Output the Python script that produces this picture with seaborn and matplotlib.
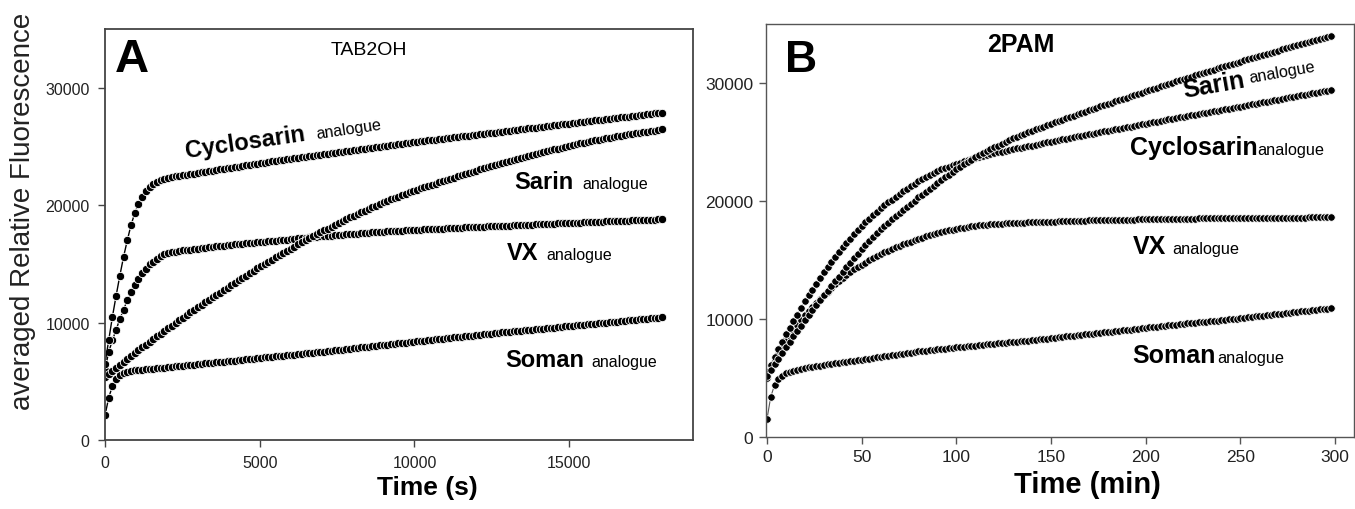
import numpy as np
import matplotlib
matplotlib.use("Agg")
import matplotlib.pyplot as plt
import matplotlib.font_manager as fm
import seaborn as sns

# sampling grids of the plate reader
time_s = np.arange(0, 18001, 120)      # panel A, seconds
time_min = np.arange(0, 299, 2)        # panel B, minutes

# panel A - TAB2OH
cyclosarin_a = [
    6500, 8500, 10500, 12300, 14000, 15600, 17000, 18300, 19300, 20100,
    20700, 21200, 21550, 21800, 22000, 22150, 22250, 22330, 22390, 22440,
    22490, 22540, 22590, 22640, 22690, 22740, 22790, 22840, 22890, 22940,
    22990, 23040, 23090, 23140, 23190, 23240, 23290, 23340, 23390, 23440,
    23490, 23540, 23590, 23630, 23680, 23720, 23760, 23810, 23850, 23890,
    23940, 23980, 24020, 24070, 24110, 24150, 24200, 24240, 24280, 24330,
    24370, 24410, 24460, 24500, 24540, 24590, 24630, 24670, 24720, 24760,
    24800, 24850, 24890, 24930, 24980, 25020, 25060, 25110, 25150, 25190,
    25240, 25280, 25320, 25370, 25410, 25440, 25480, 25520, 25560, 25590,
    25630, 25670, 25710, 25740, 25780, 25820, 25860, 25890, 25930, 25970,
    26010, 26040, 26080, 26120, 26160, 26150, 26230, 26270, 26310, 26340,
    26380, 26420, 26460, 26490, 26530, 26570, 26610, 26640, 26680, 26720,
    26760, 26790, 26830, 26870, 26910, 26940, 26980, 27020, 27060, 27090,
    27130, 27170, 27210, 27240, 27280, 27320, 27360, 27390, 27430, 27470,
    27510, 27540, 27580, 27620, 27660, 27690, 27730, 27770, 27810, 27840,
    27880]
sarin_a = [
    5400, 5650, 5900, 6160, 6410, 6660, 6910, 7160, 7420, 7660,
    7890, 8120, 8360, 8590, 8820, 9060, 9290, 9520, 9750, 9970,
    10190, 10410, 10630, 10860, 11080, 11300, 11510, 11720, 11930, 12140,
    12350, 12560, 12770, 12980, 13190, 13390, 13590, 13800, 14000, 14210,
    14410, 14610, 14810, 15000, 15180, 15370, 15560, 15740, 15930, 16110,
    16300, 16470, 16650, 16820, 16990, 17170, 17340, 17520, 17690, 17850,
    18010, 18170, 18320, 18480, 18630, 18790, 18950, 19100, 19240, 19390,
    19530, 19670, 19820, 19960, 20110, 20250, 20370, 20490, 20610, 20730,
    20850, 20970, 21090, 21210, 21320, 21420, 21520, 21620, 21730, 21830,
    21930, 22030, 22130, 22240, 22340, 22440, 22540, 22640, 22750, 22850,
    22950, 23040, 23130, 23220, 23310, 23400, 23490, 23580, 23670, 23760,
    23840, 23920, 24010, 24090, 24180, 24260, 24340, 24430, 24500, 24580,
    24660, 24740, 24820, 24890, 24970, 25050, 25120, 25180, 25250, 25310,
    25380, 25450, 25510, 25580, 25640, 25690, 25740, 25800, 25850, 25910,
    25960, 26020, 26070, 26110, 26160, 26210, 26260, 26310, 26350, 26400,
    26450]
vx_a = [
    6000, 7500, 8500, 9400, 10300, 11100, 11900, 12600, 13200, 13700,
    14200, 14600, 14950, 15200, 15450, 15650, 15800, 15900, 15980, 16040,
    16100, 16140, 16180, 16220, 16260, 16300, 16340, 16370, 16410, 16440,
    16480, 16520, 16550, 16590, 16620, 16650, 16680, 16710, 16740, 16770,
    16800, 16830, 16860, 16890, 16920, 16950, 16980, 17010, 17040, 17070,
    17100, 17130, 17160, 17190, 17220, 17250, 17280, 17310, 17340, 17360,
    17390, 17410, 17430, 17460, 17480, 17510, 17530, 17560, 17580, 17610,
    17630, 17650, 17680, 17700, 17730, 17750, 17770, 17790, 17800, 17820,
    17840, 17860, 17880, 17890, 17910, 17920, 17940, 17950, 17970, 17980,
    18000, 18010, 18030, 18040, 18060, 18070, 18090, 18100, 18120, 18130,
    18150, 18160, 18170, 18190, 18200, 18210, 18230, 18240, 18250, 18260,
    18280, 18290, 18300, 18320, 18330, 18340, 18360, 18370, 18380, 18400,
    18410, 18420, 18440, 18450, 18460, 18480, 18490, 18500, 18520, 18530,
    18540, 18560, 18570, 18580, 18600, 18610, 18620, 18640, 18650, 18660,
    18680, 18690, 18700, 18710, 18730, 18740, 18750, 18760, 18770, 18790,
    18800]
soman_a = [
    2100, 3600, 4600, 5200, 5500, 5700, 5800, 5870, 5920, 5960,
    5990, 6020, 6050, 6080, 6110, 6140, 6170, 6200, 6230, 6260,
    6290, 6320, 6360, 6390, 6420, 6450, 6480, 6520, 6550, 6580,
    6610, 6640, 6680, 6710, 6740, 6770, 6800, 6840, 6870, 6900,
    6930, 6960, 7010, 7040, 7070, 7100, 7130, 7160, 7190, 7220,
    7250, 7280, 7310, 7340, 7370, 7400, 7430, 7460, 7490, 7520,
    7560, 7600, 7630, 7670, 7700, 7740, 7780, 7810, 7850, 7880,
    7920, 7960, 7990, 8030, 8060, 8100, 8130, 8170, 8200, 8230,
    8270, 8300, 8330, 8360, 8400, 8430, 8460, 8500, 8530, 8560,
    8600, 8630, 8660, 8700, 8730, 8760, 8800, 8830, 8860, 8890,
    8930, 8960, 8990, 9030, 9060, 9090, 9130, 9160, 9190, 9220,
    9250, 9280, 9310, 9340, 9370, 9400, 9430, 9460, 9490, 9520,
    9550, 9580, 9610, 9640, 9670, 9700, 9730, 9760, 9790, 9820,
    9850, 9880, 9910, 9940, 9970, 10000, 10030, 10060, 10090, 10120,
    10150, 10180, 10210, 10240, 10270, 10300, 10330, 10360, 10390, 10420,
    10450]

# panel B - 2PAM
cyclosarin_b = [
    5500, 6140, 6780, 7420, 8060, 8700, 9260, 9820, 10380, 10940,
    11500, 12000, 12500, 13000, 13500, 14000, 14420, 14840, 15260, 15680,
    16100, 16460, 16820, 17180, 17540, 17900, 18200, 18500, 18800, 19100,
    19400, 19640, 19880, 20120, 20360, 20600, 20820, 21040, 21260, 21480,
    21700, 21870, 22040, 22210, 22380, 22550, 22670, 22790, 22910, 23030,
    23150, 23250, 23350, 23450, 23550, 23650, 23730, 23810, 23890, 23970,
    24050, 24120, 24190, 24260, 24330, 24400, 24460, 24520, 24580, 24640,
    24700, 24770, 24830, 24900, 24960, 25030, 25090, 25160, 25220, 25290,
    25350, 25410, 25470, 25530, 25590, 25650, 25710, 25770, 25830, 25890,
    25950, 26010, 26070, 26130, 26190, 26250, 26310, 26370, 26430, 26490,
    26550, 26610, 26670, 26730, 26790, 26850, 26910, 26970, 27030, 27090,
    27150, 27210, 27260, 27320, 27370, 27430, 27480, 27540, 27590, 27650,
    27700, 27760, 27820, 27880, 27940, 28000, 28060, 28120, 28180, 28240,
    28300, 28360, 28420, 28480, 28540, 28600, 28660, 28720, 28780, 28840,
    28900, 28960, 29010, 29070, 29120, 29180, 29230, 29290, 29340, 29400]
sarin_b = [
    5200, 5680, 6160, 6640, 7120, 7600, 8060, 8520, 8980, 9440,
    9900, 10320, 10740, 11160, 11580, 12000, 12400, 12800, 13200, 13600,
    14000, 14380, 14760, 15140, 15520, 15900, 16240, 16580, 16920, 17260,
    17600, 17880, 18160, 18440, 18720, 19000, 19260, 19520, 19780, 20040,
    20300, 20550, 20800, 21050, 21300, 21550, 21780, 22010, 22240, 22470,
    22700, 22900, 23100, 23300, 23500, 23700, 23870, 24040, 24210, 24380,
    24550, 24700, 24850, 25000, 25150, 25300, 25430, 25560, 25690, 25820,
    25950, 26070, 26190, 26310, 26430, 26550, 26660, 26780, 26890, 27010,
    27120, 27230, 27340, 27450, 27560, 27680, 27790, 27900, 28010, 28120,
    28230, 28340, 28440, 28550, 28660, 28770, 28870, 28980, 29090, 29190,
    29300, 29400, 29510, 29610, 29720, 29820, 29920, 30030, 30130, 30240,
    30340, 30440, 30540, 30640, 30740, 30840, 30940, 31040, 31140, 31240,
    31340, 31440, 31530, 31630, 31720, 31820, 31920, 32010, 32110, 32200,
    32300, 32390, 32480, 32570, 32660, 32750, 32840, 32930, 33020, 33110,
    33200, 33290, 33370, 33460, 33540, 33630, 33710, 33800, 33880, 33970]
vx_b = [
    5000, 5800, 6450, 7060, 7600, 8100, 8580, 9060, 9500, 9900,
    10300, 10660, 11020, 11380, 11700, 12000, 12320, 12640, 12950, 13230,
    13500, 13740, 13980, 14220, 14420, 14600, 14780, 14960, 15140, 15320,
    15500, 15640, 15780, 15920, 16060, 16200, 16320, 16440, 16560, 16680,
    16800, 16900, 17000, 17100, 17200, 17300, 17370, 17440, 17510, 17580,
    17650, 17700, 17750, 17800, 17850, 17900, 17930, 17960, 17990, 18020,
    18050, 18070, 18080, 18100, 18110, 18130, 18140, 18160, 18170, 18190,
    18200, 18210, 18220, 18230, 18240, 18250, 18260, 18270, 18280, 18290,
    18300, 18310, 18320, 18330, 18340, 18350, 18360, 18370, 18380, 18390,
    18400, 18400, 18410, 18410, 18420, 18420, 18430, 18430, 18440, 18440,
    18450, 18450, 18460, 18460, 18470, 18470, 18480, 18480, 18490, 18490,
    18500, 18500, 18510, 18510, 18520, 18520, 18530, 18530, 18540, 18540,
    18550, 18550, 18550, 18560, 18560, 18560, 18560, 18570, 18570, 18570,
    18570, 18580, 18580, 18580, 18580, 18590, 18590, 18590, 18590, 18600,
    18600, 18600, 18600, 18610, 18610, 18610, 18620, 18620, 18620, 18630]
soman_b = [
    1500, 3400, 4400, 4900, 5200, 5400, 5500, 5600, 5690, 5770,
    5850, 5900, 5950, 6000, 6050, 6100, 6150, 6200, 6250, 6300,
    6350, 6390, 6430, 6470, 6510, 6550, 6600, 6650, 6700, 6750,
    6800, 6840, 6890, 6930, 6980, 7020, 7070, 7110, 7160, 7200,
    7250, 7280, 7320, 7350, 7390, 7420, 7460, 7490, 7530, 7560,
    7600, 7630, 7660, 7690, 7720, 7750, 7780, 7810, 7840, 7870,
    7900, 7930, 7960, 7990, 8020, 8050, 8080, 8110, 8140, 8170,
    8200, 8240, 8270, 8310, 8340, 8380, 8410, 8450, 8480, 8520,
    8550, 8590, 8620, 8660, 8690, 8730, 8760, 8800, 8830, 8870,
    8900, 8940, 8970, 9010, 9040, 9080, 9110, 9150, 9180, 9220,
    9250, 9290, 9320, 9360, 9390, 9430, 9460, 9500, 9530, 9570,
    9600, 9630, 9660, 9690, 9720, 9750, 9780, 9810, 9840, 9870,
    9900, 9940, 9970, 10010, 10040, 10080, 10110, 10150, 10180, 10220,
    10250, 10290, 10320, 10360, 10390, 10430, 10460, 10500, 10530, 10570,
    10600, 10640, 10670, 10710, 10740, 10780, 10810, 10850, 10880, 10920]

sns.set_theme(style="white")
plt.rcParams["font.family"] = ["Liberation Sans", "DejaVu Sans"]

# panel B of the original uses a condensed face
installed = {f.name for f in fm.fontManager.ttflist}
if "Liberation Sans Narrow" in installed:
    narrow, k = "Liberation Sans Narrow", 1.22
else:
    narrow, k = "Liberation Sans", 1.0


def draw_series(ax, x, y, ms, line_color, lw):
    sns.lineplot(x=x, y=y, ax=ax, color=line_color, lw=lw, marker="o",
                 markersize=ms, markerfacecolor="black", markeredgecolor="white",
                 markeredgewidth=0.6, estimator=None, sort=False)


def style_axes(ax, spine_color, lw, fontsize, family, pad):
    for sp in ax.spines.values():
        sp.set_visible(True)
        sp.set_color(spine_color)
        sp.set_linewidth(lw)
    ax.tick_params(bottom=True, left=True, direction="out", length=5, width=1,
                   color=spine_color, labelcolor="#222222", labelsize=fontsize, pad=pad)
    for lab in ax.get_xticklabels() + ax.get_yticklabels():
        lab.set_family(family)


fig = plt.figure(figsize=(13.55, 5.1), dpi=100)
ax_a = fig.add_axes([105 / 1355, 69 / 510, 588 / 1355, 411 / 510])
ax_b = fig.add_axes([766 / 1355, 72 / 510, 588 / 1355, 413 / 510])

# ---- panel A
for series in [soman_a, vx_a, sarin_a, cyclosarin_a]:
    draw_series(ax_a, time_s, series, 6.0, "black", 1.0)
ax_a.set_xlim(0, 19000)
ax_a.set_ylim(0, 35000)
ax_a.set_xticks([0, 5000, 10000, 15000])
ax_a.set_yticks([0, 10000, 20000, 30000])
style_axes(ax_a, "#444444", 1.3, 11.5, "Liberation Sans", 6)
ax_a.set_xlabel("Time (s)", fontsize=19, fontweight="bold", color="black", va="top")
ax_a.xaxis.set_label_coords(0.548, -0.085)
ax_a.set_ylabel("")

ax_a.text(0.017, 0.898, "A", transform=ax_a.transAxes, fontsize=34,
          fontweight="bold", ha="left", va="baseline", color="black")
ax_a.text(0.449, 0.939, "TAB2OH", transform=ax_a.transAxes, fontsize=14,
          ha="center", va="baseline", color="black")

labels_a = [
    ("Cyclosarin", 2620, 24130, "analogue", 6850, 25750, 8.3),
    ("Sarin", 13230, 21500, "analogue", 15420, 21500, 0),
    ("VX", 13000, 15380, "analogue", 14260, 15380, 0),
    ("Soman", 12940, 6290, "analogue", 15710, 6290, 0),
]
for name, x1, y1, suffix, x2, y2, rot in labels_a:
    ax_a.text(x1, y1, name, fontsize=17, fontweight="bold", rotation=rot,
              rotation_mode="anchor", ha="left", va="baseline", color="black")
    ax_a.text(x2, y2, suffix, fontsize=11.5, rotation=rot,
              rotation_mode="anchor", ha="left", va="baseline", color="black")

# ---- panel B
for series in [soman_b, vx_b, cyclosarin_b, sarin_b]:
    draw_series(ax_b, time_min, series, 5.4, "#555555", 0.8)
ax_b.set_xlim(-0.5, 310)
ax_b.set_ylim(0, 35000)
ax_b.set_xticks([0, 50, 100, 150, 200, 250, 300])
ax_b.set_yticks([0, 10000, 20000, 30000])
style_axes(ax_b, "#555555", 1.0, 12.5 * k, narrow, 4)
ax_b.set_xlabel("Time (min)", fontsize=21 * k, fontweight="bold", color="black",
                family=narrow, va="top")
ax_b.xaxis.set_label_coords(0.546, -0.08)
ax_b.set_ylabel("")

ax_b.text(0.032, 0.886, "B", transform=ax_b.transAxes, fontsize=32,
          fontweight="bold", ha="left", va="baseline", color="black")
ax_b.text(0.434, 0.935, "2PAM", transform=ax_b.transAxes, fontsize=18 * k,
          fontweight="bold", family=narrow, ha="center", va="baseline", color="black")

labels_b = [
    ("Sarin", 220.5, 28810, "analogue", 254.7, 30080, 10),
    ("Cyclosarin", 191.5, 23980, "analogue", 259, 23980, 0),
    ("VX", 193, 15590, "analogue", 214, 15590, 0),
    ("Soman", 193, 6360, "analogue", 238, 6360, 0),
]
for name, x1, y1, suffix, x2, y2, rot in labels_b:
    ax_b.text(x1, y1, name, fontsize=18 * k, fontweight="bold", family=narrow,
              rotation=rot, rotation_mode="anchor", ha="left", va="baseline", color="black")
    ax_b.text(x2, y2, suffix, fontsize=11.7 * k, family=narrow, rotation=rot,
              rotation_mode="anchor", ha="left", va="baseline", color="black")

fig.text(23 / 1355, 1 - 211 / 510, "averaged Relative Fluorescence", rotation=90,
         ha="center", va="center", fontsize=20, color="#222222")

fig.savefig("out.png", dpi=100, facecolor="white")
